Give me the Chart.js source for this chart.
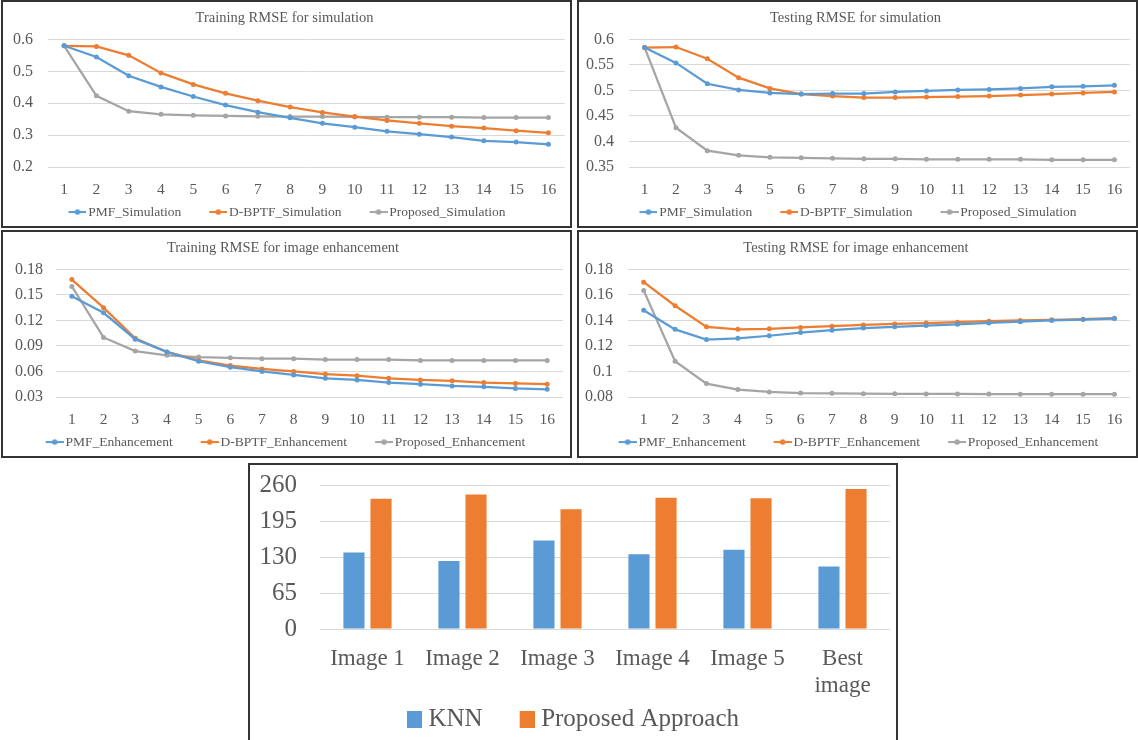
<!DOCTYPE html>
<html>
<head>
<meta charset="utf-8">
<script src="https://cdn.jsdelivr.net/npm/chart.js@4.4.1/dist/chart.umd.min.js"></script>
<style>
  body { margin: 0; background: #fff; width: 1138px; height: 740px; overflow: hidden; position: relative; }
  .panel { position: absolute; box-sizing: border-box; border: 2px solid #333; background: #fff; }
  .panel canvas { display: block; }
</style>
</head>
<body>
<div class="panel" style="left:1px;top:0;width:571px;height:228px"><canvas id="trainSim" width="567" height="224"></canvas></div>
<div class="panel" style="left:577px;top:0;width:561px;height:228px"><canvas id="testSim" width="557" height="224"></canvas></div>
<div class="panel" style="left:1px;top:230px;width:571px;height:228px"><canvas id="trainEnh" width="567" height="224"></canvas></div>
<div class="panel" style="left:577px;top:230px;width:561px;height:228px"><canvas id="testEnh" width="557" height="224"></canvas></div>
<div class="panel" style="left:248px;top:463px;width:650px;height:282px"><canvas id="bars" width="646" height="278"></canvas></div>

<script>
const iterations = ['1','2','3','4','5','6','7','8','9','10','11','12','13','14','15','16'];

// Training RMSE for simulation
const trainSimPMF      = [0.58, 0.545, 0.486, 0.451, 0.421, 0.394, 0.372, 0.354, 0.337, 0.325, 0.312, 0.303, 0.294, 0.282, 0.278, 0.271];
const trainSimDBPTF    = [0.58, 0.578, 0.55, 0.495, 0.459, 0.431, 0.408, 0.388, 0.371, 0.358, 0.346, 0.337, 0.328, 0.322, 0.314, 0.307];
const trainSimProposed = [0.58, 0.423, 0.375, 0.365, 0.362, 0.36, 0.359, 0.358, 0.358, 0.357, 0.356, 0.356, 0.356, 0.355, 0.355, 0.355];

// Testing RMSE for simulation
const testSimPMF      = [0.584, 0.554, 0.513, 0.501, 0.495, 0.493, 0.494, 0.494, 0.497, 0.499, 0.501, 0.502, 0.504, 0.507, 0.508, 0.51];
const testSimDBPTF    = [0.584, 0.585, 0.562, 0.525, 0.504, 0.493, 0.489, 0.486, 0.486, 0.487, 0.488, 0.489, 0.491, 0.493, 0.495, 0.497];
const testSimProposed = [0.584, 0.427, 0.382, 0.373, 0.369, 0.368, 0.367, 0.366, 0.366, 0.365, 0.365, 0.365, 0.365, 0.364, 0.364, 0.364];

// Training RMSE for image enhancement
const trainEnhPMF      = [0.1485, 0.129, 0.098, 0.083, 0.072, 0.065, 0.06, 0.056, 0.052, 0.05, 0.047, 0.045, 0.043, 0.042, 0.04, 0.039];
const trainEnhDBPTF    = [0.168, 0.135, 0.099, 0.083, 0.073, 0.067, 0.063, 0.06, 0.057, 0.055, 0.052, 0.05, 0.049, 0.047, 0.046, 0.045];
const trainEnhProposed = [0.16, 0.1, 0.084, 0.079, 0.077, 0.076, 0.075, 0.075, 0.074, 0.074, 0.074, 0.073, 0.073, 0.073, 0.073, 0.073];

// Testing RMSE for image enhancement
const testEnhPMF      = [0.148, 0.133, 0.125, 0.126, 0.128, 0.1305, 0.1324, 0.134, 0.135, 0.136, 0.137, 0.138, 0.139, 0.14, 0.1407, 0.1415];
const testEnhDBPTF    = [0.17, 0.1515, 0.135, 0.133, 0.1334, 0.1345, 0.1355, 0.1365, 0.1373, 0.1379, 0.1386, 0.1394, 0.14, 0.1405, 0.141, 0.1418];
const testEnhProposed = [0.1635, 0.108, 0.0905, 0.0858, 0.084, 0.0831, 0.0829, 0.0826, 0.0825, 0.0824, 0.0824, 0.0823, 0.0822, 0.0822, 0.0822, 0.0822];

// bar chart
const images = ['Image 1', 'Image 2', 'Image 3', 'Image 4', 'Image 5', ['Best', 'image']];
const knnValues = [138, 123, 160, 135, 143, 113];
const proposedValues = [235, 243, 216, 237, 236, 253];

const BLUE = '#5B9BD5', ORANGE = '#ED7D31', GREY = '#A5A5A5', TEXT = '#595959';
const FONT = "'Liberation Serif', 'DejaVu Serif', serif";

// legend marker: line with a dot, pushed to the right edge so it sits close to the text
function lineMarker(color) {
  const c = document.createElement('canvas');
  c.width = 28; c.height = 8;
  const g = c.getContext('2d');
  g.strokeStyle = color; g.lineWidth = 2;
  g.beginPath(); g.moveTo(10, 4); g.lineTo(28, 4); g.stroke();
  g.fillStyle = color;
  g.beginPath(); g.arc(19, 4, 2.8, 0, Math.PI * 2); g.fill();
  return c;
}

function boxMarker(color) {
  const c = document.createElement('canvas');
  c.width = 27; c.height = 17;
  const g = c.getContext('2d');
  g.fillStyle = color;
  g.fillRect(12, 0, 15, 17);
  return c;
}

// the legend keeps its wide horizontal padding, but only `gap` px of it above the row
const tightLegend = {
  id: 'tightLegend',
  beforeLayout(chart, args, opts) {
    const lg = chart.legend;
    if (lg && !lg._tight) {
      const fit = lg.fit;
      lg.fit = function () { fit.call(this); this.height -= this.options.labels.padding - opts.gap; };
      lg._tight = true;
    }
  },
  afterLayout(chart, args, opts) {
    const lg = chart.legend;
    lg.top -= lg.options.labels.padding - opts.gap;
  },
};

const trimNum = v => String(+Number(v).toFixed(4));

function lineChart(id, title, names, series, yMin, yMax, step, geo) {
  const colors = [BLUE, ORANGE, GREY];
  new Chart(document.getElementById(id), {
    type: 'line',
    data: {
      labels: iterations,
      datasets: series.map((s, i) => ({
        label: names[i],
        data: s,
        borderColor: colors[i],
        backgroundColor: colors[i],
        borderWidth: 2.25,
        pointRadius: 2.5,
        pointBorderWidth: 0,
        tension: 0,
      })),
    },
    plugins: [tightLegend],
    options: {
      responsive: false,
      animation: false,
      layout: { padding: { left: 0, right: geo.right, top: 0, bottom: -2.8 } },
      plugins: {
        tightLegend: { gap: 6 },
        title: {
          display: true, text: title, color: TEXT,
          font: { family: FONT, size: 14.5, weight: 'normal' },
          padding: { top: 7, bottom: 13 },
        },
        legend: {
          position: 'bottom',
          labels: {
            color: TEXT, font: { family: FONT, size: 13.5 },
            usePointStyle: true, pointStyleWidth: 18, boxHeight: 8, padding: 23,
            generateLabels: chart => Chart.defaults.plugins.legend.labels.generateLabels(chart)
              .map((it, i) => Object.assign(it, { pointStyle: lineMarker(colors[i]) })),
          },
        },
        tooltip: { enabled: false },
      },
      scales: {
        x: {
          offset: true,
          grid: { display: false, drawTicks: false },
          border: { display: false },
          ticks: { color: TEXT, font: { family: FONT, size: 15.5 }, padding: 13.7, maxRotation: 0, autoSkip: false },
          afterFit: s => { s.height = 13.7 + 18.6; },
        },
        y: {
          min: yMin, max: yMax,
          ticks: { stepSize: step, color: TEXT, font: { family: FONT, size: 16 }, padding: 0, autoSkip: false, callback: trimNum },
          grid: { color: '#D9D9D9', tickLength: geo.gap, tickColor: 'transparent' },
          border: { display: false },
          afterFit: s => { s.width = geo.left; },
        },
      },
    },
  });
}

lineChart('trainSim', 'Training RMSE for simulation',
  ['PMF_Simulation', 'D-BPTF_Simulation', 'Proposed_Simulation'],
  [trainSimPMF, trainSimDBPTF, trainSimProposed], 0.2, 0.6, 0.1, { left: 45, gap: 15, right: 4 });

lineChart('testSim', 'Testing RMSE for simulation',
  ['PMF_Simulation', 'D-BPTF_Simulation', 'Proposed_Simulation'],
  [testSimPMF, testSimDBPTF, testSimProposed], 0.35, 0.6, 0.05, { left: 50, gap: 15, right: 4 });

lineChart('trainEnh', 'Training RMSE for image enhancement',
  ['PMF_Enhancement', 'D-BPTF_Enhancement', 'Proposed_Enhancement'],
  [trainEnhPMF, trainEnhDBPTF, trainEnhProposed], 0.03, 0.18, 0.03, { left: 53, gap: 13, right: 7 });

lineChart('testEnh', 'Testing RMSE for image enhancement',
  ['PMF_Enhancement', 'D-BPTF_Enhancement', 'Proposed_Enhancement'],
  [testEnhPMF, testEnhDBPTF, testEnhProposed], 0.08, 0.18, 0.02, { left: 49, gap: 15, right: 3 });

const barColors = [BLUE, ORANGE];
new Chart(document.getElementById('bars'), {
  type: 'bar',
  data: {
    labels: images,
    datasets: [
      { label: 'KNN', data: knnValues, backgroundColor: BLUE },
      { label: 'Proposed Approach', data: proposedValues, backgroundColor: ORANGE },
    ],
  },
  plugins: [tightLegend],
  options: {
    responsive: false,
    animation: false,
    layout: { padding: { left: 0, right: 6, top: 20, bottom: 1.5 } },
    datasets: { bar: { categoryPercentage: 0.57, barPercentage: 0.78 } },
    plugins: {
      tightLegend: { gap: 7.8 },
      legend: {
        position: 'bottom',
        labels: {
          color: TEXT, font: { family: FONT, size: 25 },
          usePointStyle: true, pointStyleWidth: 15, boxHeight: 17, padding: 31,
          generateLabels: chart => Chart.defaults.plugins.legend.labels.generateLabels(chart)
            .map((it, i) => Object.assign(it, { pointStyle: boxMarker(barColors[i]) })),
        },
      },
      tooltip: { enabled: false },
    },
    scales: {
      x: {
        grid: { display: false, drawTicks: false },
        border: { display: false },
        ticks: { color: TEXT, font: { family: FONT, size: 23, lineHeight: 1.15 }, padding: 16.8, maxRotation: 0, autoSkip: false },
        afterFit: s => { s.height = 16.8 + 2 * 23 * 1.15; },
      },
      y: {
        min: 0, max: 260,
        ticks: { stepSize: 65, color: TEXT, font: { family: FONT, size: 25 }, padding: 0, autoSkip: false },
        grid: { color: '#D9D9D9', tickLength: 23, tickColor: 'transparent' },
        border: { display: false },
        afterFit: s => { s.width = 70; },
      },
    },
  },
});
</script>
</body>
</html>
